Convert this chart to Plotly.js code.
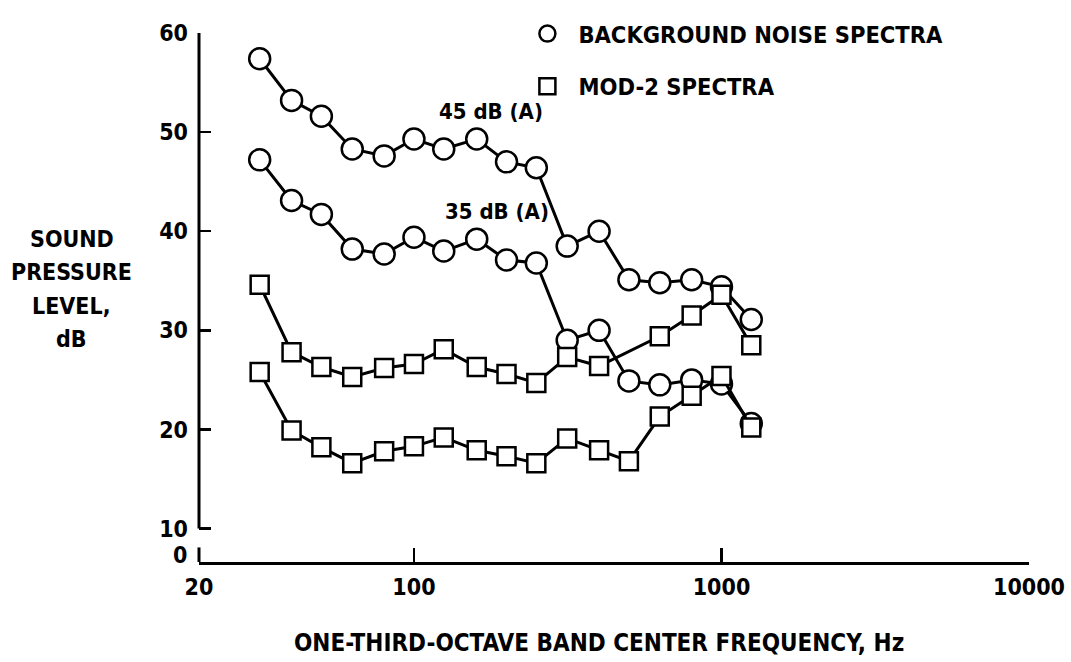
<!DOCTYPE html>
<html>
<head>
<meta charset="utf-8">
<script src="https://cdn.plot.ly/plotly-3.0.1.min.js"></script>
<style>html,body{margin:0;padding:0;background:#fff;}#chart{width:1071px;height:662px;}</style>
</head>
<body>
<div id="chart"></div>
<script>
// One-third-octave band centre frequencies (Hz)
const freqHz = [31.5, 40, 50, 63, 80, 100, 125, 160, 200, 250, 315, 400, 500, 630, 800, 1000, 1250];
// Background noise spectra (circles)
const bgNoise45 = [57.4, 53.2, 51.6, 48.3, 47.6, 49.3, 48.3, 49.3, 47.0, 46.4, 38.5, 40.0, 35.1, 34.8, 35.1, 34.4, 31.1];
const bgNoise35 = [47.2, 43.1, 41.7, 38.2, 37.7, 39.4, 38.0, 39.2, 37.1, 36.8, 29.0, 30.0, 24.9, 24.5, 25.0, 24.6, 20.6];
// MOD-2 spectra (squares)
const mod2Upper = [34.6, 27.8, 26.3, 25.3, 26.2, 26.6, 28.1, 26.3, 25.6, 24.7, 27.3, 26.4, null, 29.4, 31.5, 33.6, 28.5];
const mod2Lower = [25.8, 19.9, 18.2, 16.6, 17.8, 18.3, 19.2, 17.9, 17.3, 16.6, 19.1, 17.9, 16.8, 21.3, 23.4, 25.4, 20.2];

const xTickVals = [20, 100, 1000, 10000];
const xTickText = ['20', '100', '1000', '10000'];
const yTickVals = [10, 20, 30, 40, 50, 60];
const yTickText = ['10', '20', '30', '40', '50', '60'];
const yBreakLabel = '0';
const curveLabels = ['45 dB (A)', '35 dB (A)'];
const seriesNames = ['BACKGROUND NOISE SPECTRA', 'MOD-2 SPECTRA'];
const yTitleLines = ['SOUND', 'PRESSURE', 'LEVEL,', 'dB'];
const xTitle = 'ONE-THIRD-OCTAVE BAND CENTER FREQUENCY, Hz';

const FONT = "'DejaVu Sans Condensed', 'Liberation Sans Narrow', sans-serif";
const yBottom = 6.63, yTop = 60, yZeroLabel = 7.32, yStubTop = 8.1;

function series(y, symbol, size) {
  return {
    x: freqHz, y: y, type: 'scatter', mode: 'lines+markers', connectgaps: true,
    showlegend: false, cliponaxis: false,
    line: {color: '#000', width: 3},
    marker: {symbol: symbol, size: size, color: '#fff', line: {color: '#000', width: 2.5}}
  };
}

const traces = [
  series(bgNoise45, 'circle', 21),
  series(bgNoise35, 'circle', 21),
  series(mod2Upper, 'square', 18),
  series(mod2Lower, 'square', 18),
  {x: [null], y: [null], type: 'scatter', mode: 'markers', name: seriesNames[0], legendgroup: 'a',
   marker: {symbol: 'circle', size: 19, color: '#fff', line: {color: '#000', width: 2.5}}},
  {x: [null], y: [null], type: 'scatter', mode: 'markers', name: seriesNames[1], legendgroup: 'b',
   marker: {symbol: 'square', size: 17, color: '#fff', line: {color: '#000', width: 2.5}}}
];

const tf = (s) => ({family: FONT, size: s, weight: 'bold', color: '#000'});

const annotations = [
  {xref: 'paper', yref: 'y', x: 0, y: yZeroLabel, xanchor: 'right', yanchor: 'middle', xshift: -10,
   text: yBreakLabel, showarrow: false, font: tf(23)},
  {xref: 'paper', yref: 'paper', x: 0.3522, y: 0.8516, xanchor: 'center', yanchor: 'middle',
   text: curveLabels[0], showarrow: false, font: tf(22)},
  {xref: 'paper', yref: 'paper', x: 0.3595, y: 0.6623, xanchor: 'center', yanchor: 'middle',
   text: curveLabels[1], showarrow: false, font: tf(22)},
  {xref: 'paper', yref: 'paper', x: 0.482, y: -0.154, xanchor: 'center', yanchor: 'middle',
   text: xTitle, showarrow: false, font: tf(24)}
];
const yTitleY = [0.6104, 0.5473, 0.4842, 0.4212];
yTitleLines.forEach((t, i) => annotations.push({
  xref: 'paper', yref: 'paper', x: -0.1532, y: yTitleY[i], xanchor: 'center', yanchor: 'middle',
  text: t, showarrow: false, font: tf(23)
}));

const layout = {
  width: 1071, height: 662,
  margin: {l: 199, r: 42, t: 23, b: 100},
  paper_bgcolor: '#fff', plot_bgcolor: '#fff',
  font: tf(22),
  xaxis: {
    type: 'log', range: [Math.log10(20), 4],
    tickvals: xTickVals, ticktext: xTickText,
    ticks: 'inside', ticklen: 14, tickwidth: 2.5, tickcolor: '#000',
    showline: true, linewidth: 3, linecolor: '#000',
    showgrid: false, zeroline: false, ticklabelstandoff: 2,
    tickfont: tf(23)
  },
  yaxis: {
    range: [yBottom, yTop],
    tickvals: yTickVals, ticktext: yTickText,
    ticks: 'inside', ticklen: 12, tickwidth: 2.5, tickcolor: '#000',
    showline: false, showgrid: false, zeroline: false, ticklabelstandoff: 10,
    tickfont: tf(23)
  },
  shapes: [
    {type: 'line', xref: 'paper', yref: 'y', x0: 0, x1: 0, y0: yTickVals[0], y1: yTickVals[yTickVals.length - 1],
     line: {color: '#000', width: 3}},
    {type: 'line', xref: 'paper', yref: 'y', x0: 0, x1: 0, y0: yBottom, y1: yStubTop,
     line: {color: '#000', width: 3}}
  ],
  annotations: annotations,
  showlegend: true,
  legend: {
    x: 0.3824, y: 1.04, xanchor: 'left', yanchor: 'top',
    bgcolor: 'rgba(0,0,0,0)', borderwidth: 0,
    itemwidth: 52, tracegroupgap: 19,
    font: tf(23.5)
  }
};

Plotly.newPlot('chart', traces, layout, {staticPlot: true, displayModeBar: false});
</script>
</body>
</html>
